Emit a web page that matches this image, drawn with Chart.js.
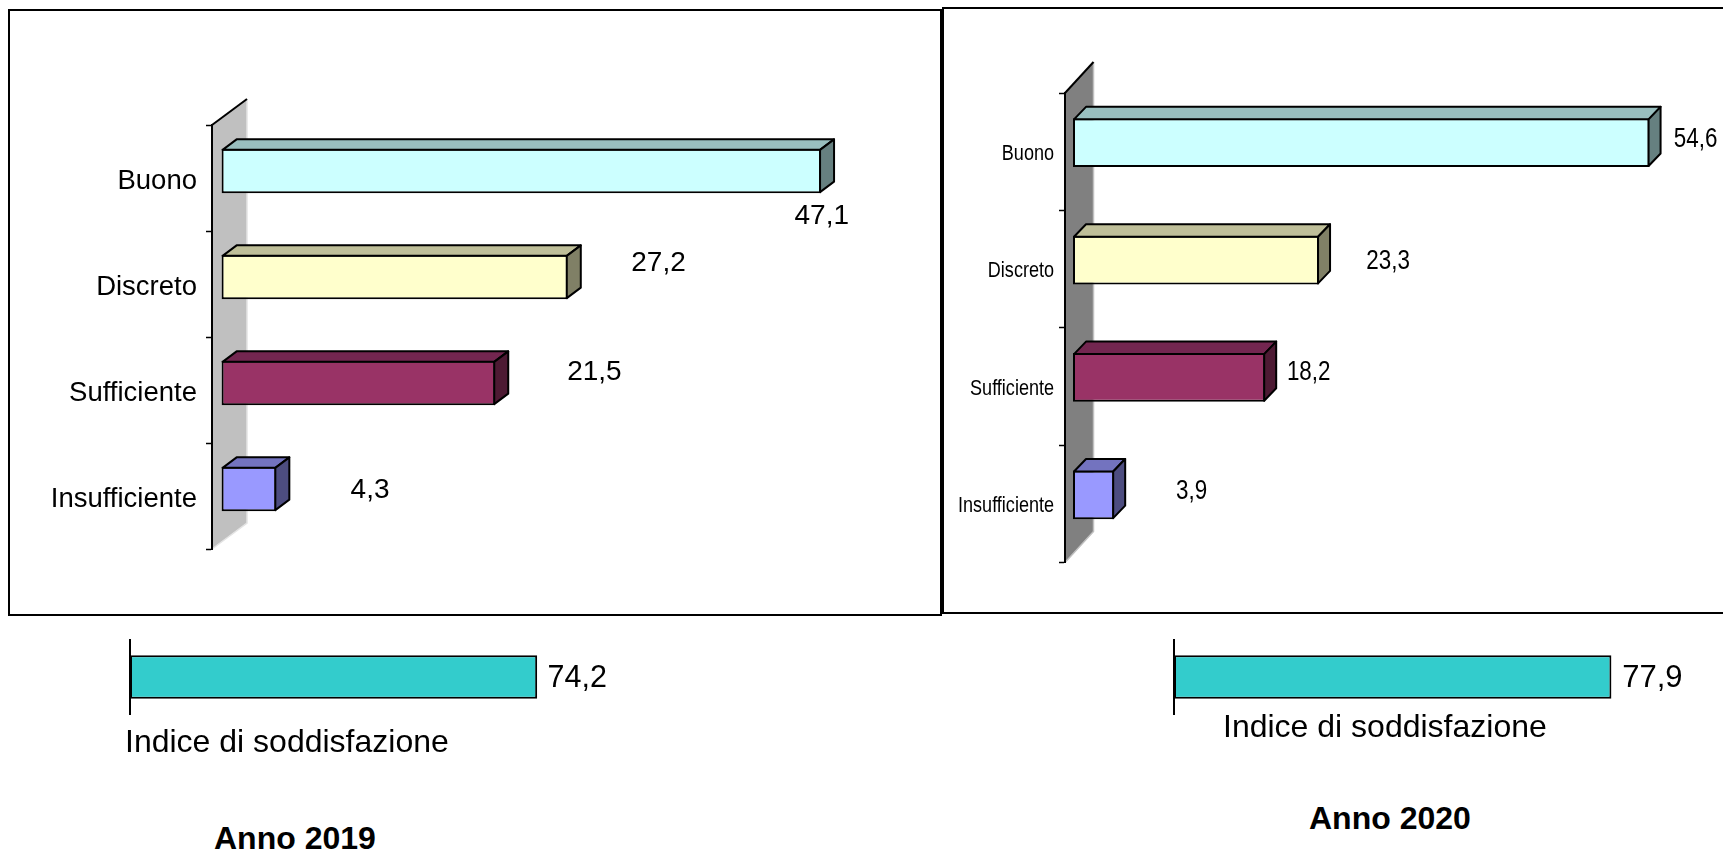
<!DOCTYPE html>
<html lang="it">

<head>
    <meta charset="UTF-8">
    <title>Indice di soddisfazione</title>
    <style>
        body {
            margin: 0;
            background: #fff;
            overflow: hidden;
            width: 1723px;
            height: 852px;
            position: relative;
            font-family: "Liberation Sans", Arial, sans-serif;
            color: #000;
        }

        canvas,
        .frame,
        .caption {
            position: absolute;
        }

        .frame {
            box-sizing: border-box;
            border: 2px solid #000;
        }

        .caption {
            white-space: nowrap;
            line-height: 1;
        }

        .caption.index {
            font-size: 32px;
        }

        .caption.year {
            font-size: 32px;
            font-weight: bold;
        }
    </style>
</head>

<body>
    <div class="frame" style="left:8px;top:9px;width:934px;height:607px"></div>
    <div class="frame" style="left:942px;top:7px;width:800px;height:607px"></div>

    <canvas id="chart2019" width="942" height="620" style="left:0;top:0"></canvas>
    <canvas id="chart2020" width="780" height="620" style="left:943px;top:0"></canvas>
    <canvas id="index2019" width="540" height="95" style="left:100px;top:630px"></canvas>
    <canvas id="index2020" width="560" height="95" style="left:1150px;top:630px"></canvas>

    <div class="caption index" id="indexLabel2019" style="left:125px;top:725px"></div>
    <div class="caption index" id="indexLabel2020" style="left:1223px;top:710px"></div>
    <div class="caption year" id="yearLabel2019" style="left:214px;top:822px"></div>
    <div class="caption year" id="yearLabel2020" style="left:1309px;top:802px"></div>

    <script src="https://cdn.jsdelivr.net/npm/chart.js"></script>
    <script>
        const categories = ["Buono", "Discreto", "Sufficiente", "Insufficiente"];
        const values2019 = [47.1, 27.2, 21.5, 4.3];
        const values2020 = [54.6, 23.3, 18.2, 3.9];
        const indexName = "Indice di soddisfazione";
        const index2019 = [74.2];
        const index2020 = [77.9];
        const years = ["Anno 2019", "Anno 2020"];

        const fills = ["#CCFFFF", "#FFFFCC", "#993366", "#9999FF"];
        const topFaces = ["#99BFBF", "#BFBF99", "#732650", "#7373BF"];
        const sideFaces = ["#668080", "#808066", "#4D1A33", "#4D4D80"];

        const fmt = (v) => v.toFixed(1).replace(".", ",");
        const ARIAL = "'Liberation Sans', Arial, sans-serif";

        // text squeezed sideways, the 2020 panel has a stretched look
        function squeezedText(ctx, text, x, y, squeeze) {
            ctx.save();
            ctx.translate(x, y);
            ctx.scale(squeeze, 1);
            ctx.fillText(text, 0, 0);
            ctx.restore();
        }

        // fake 3D: back wall, bar faces and the value labels
        const fake3d = {
            id: "fake3d",
            beforeDraw(chart, args, opts) {
                if (!opts.wall) return;
                const { ctx, chartArea: a } = chart;
                const w = opts.wall;
                ctx.save();
                ctx.beginPath();
                ctx.moveTo(a.left, a.top);
                ctx.lineTo(a.left + w.dx, a.top - w.dy);
                ctx.lineTo(a.left + w.dx, a.bottom - w.dy);
                ctx.lineTo(a.left, a.bottom);
                ctx.closePath();
                ctx.fillStyle = w.color;
                ctx.fill();
                ctx.strokeStyle = w.edge;
                ctx.lineWidth = 1.5;
                ctx.beginPath();
                ctx.moveTo(a.left + w.dx, a.top - w.dy);
                ctx.lineTo(a.left + w.dx, a.bottom - w.dy);
                ctx.lineTo(a.left, a.bottom);
                ctx.stroke();
                ctx.strokeStyle = "#000";
                ctx.lineWidth = 2;
                ctx.beginPath();
                ctx.moveTo(a.left, a.top);
                ctx.lineTo(a.left + w.dx, a.top - w.dy);
                ctx.stroke();
                ctx.restore();
            },
            afterDraw(chart, args, opts) {
                if (!opts.squeezedTicks) return;
                const { ctx, scales } = chart;
                const t = opts.squeezedTicks;
                ctx.save();
                ctx.fillStyle = "#000";
                ctx.font = t.font;
                ctx.textAlign = "right";
                ctx.textBaseline = "middle";
                chart.data.labels.forEach((label, i) => {
                    squeezedText(ctx, label, t.right, scales.y.getPixelForValue(i) + t.dy, t.squeeze);
                });
                ctx.restore();
            },
            beforeDatasetDraw(chart, args, opts) {
                chart.ctx.save();
                chart.ctx.translate(opts.shift.x, opts.shift.y);
            },
            afterDatasetDraw(chart, args, opts) {
                const ctx = chart.ctx;
                args.meta.data.forEach((bar, i) => {
                    const top = bar.y - bar.height / 2 + 1;
                    const bottom = bar.y + bar.height / 2 - 1;
                    const right = bar.x - 1;
                    const left = bar.base + 1;
                    const d = opts.depth;
                    ctx.strokeStyle = "#000";
                    ctx.lineWidth = 2;
                    ctx.lineJoin = "round";
                    if (d) {
                        ctx.fillStyle = topFaces[i];
                        ctx.beginPath();
                        ctx.moveTo(left, top);
                        ctx.lineTo(left + d.dx, top - d.dy);
                        ctx.lineTo(right + d.dx, top - d.dy);
                        ctx.lineTo(right, top);
                        ctx.closePath();
                        ctx.fill();
                        ctx.stroke();
                        ctx.fillStyle = sideFaces[i];
                        ctx.beginPath();
                        ctx.moveTo(right, top);
                        ctx.lineTo(right + d.dx, top - d.dy);
                        ctx.lineTo(right + d.dx, bottom - d.dy);
                        ctx.lineTo(right, bottom);
                        ctx.closePath();
                        ctx.fill();
                        ctx.stroke();
                    }
                    const off = opts.labelOffsets[i];
                    ctx.fillStyle = "#000";
                    ctx.font = opts.labelFont;
                    ctx.textAlign = "center";
                    ctx.textBaseline = "middle";
                    const value = chart.data.datasets[args.index].data[i];
                    squeezedText(ctx, fmt(value), bar.x + off[0], bar.y + off[1], opts.labelSqueeze);
                });
                ctx.restore();
            }
        };
        Chart.register(fake3d);

        function makeChart(id, labels, data, colors, cfg) {
            new Chart(document.getElementById(id), {
                type: "bar",
                data: {
                    labels: labels,
                    datasets: [{
                        data: data,
                        backgroundColor: colors,
                        borderColor: "#000",
                        borderWidth: 2,
                        borderSkipped: false,
                        categoryPercentage: 1,
                        barPercentage: cfg.barPercentage,
                        clip: false
                    }]
                },
                options: {
                    indexAxis: "y",
                    responsive: false,
                    animation: false,
                    events: [],
                    layout: { padding: cfg.padding },
                    plugins: {
                        legend: { display: false },
                        tooltip: { enabled: false },
                        fake3d: {
                            wall: cfg.wall,
                            depth: cfg.depth,
                            shift: cfg.shift,
                            labelFont: cfg.labelFont,
                            labelSqueeze: cfg.labelSqueeze || 1,
                            labelOffsets: cfg.labelOffsets,
                            squeezedTicks: cfg.squeezedTicks
                        }
                    },
                    scales: {
                        x: { display: false, min: 0, max: cfg.max },
                        y: {
                            afterFit: (axis) => { axis.width = cfg.axisWidth; },
                            border: { display: true, color: "#000", width: 2 },
                            grid: {
                                drawOnChartArea: false,
                                drawTicks: cfg.drawTicks,
                                tickColor: "#000",
                                tickLength: 6,
                                tickWidth: 1.5
                            },
                            ticks: {
                                display: cfg.showLabels,
                                autoSkip: false,
                                color: "#000",
                                padding: 9,
                                labelOffset: 3,
                                font: { family: ARIAL, size: 27.5 }
                            }
                        }
                    }
                }
            });
        }

        makeChart("chart2019", categories, values2019, fills, {
            barPercentage: 0.418,
            padding: { top: 125, bottom: 71, left: 0, right: 30 },
            axisWidth: 212,
            max: 55,
            drawTicks: true,
            showLabels: true,
            wall: { dx: 35, dy: 26, color: "#C0C0C0", edge: "#E4E4E4" },
            depth: { dx: 14, dy: 10.5 },
            shift: { x: 9.6, y: -7 },
            labelFont: "28px " + ARIAL,
            labelOffsets: [[0.7, 45], [90.7, -13.5], [99.2, -11], [93.7, 1]]
        });

        makeChart("chart2020", categories, values2020, fills, {
            barPercentage: 0.415,
            padding: { top: 93, bottom: 57.5, left: 0, right: 24.4 },
            axisWidth: 122,
            max: 60,
            drawTicks: true,
            showLabels: false,
            wall: { dx: 28.5, dy: 31, color: "#808080", edge: "#C0C0C0" },
            depth: { dx: 12, dy: 12.5 },
            shift: { x: 8, y: -9 },
            labelFont: "27px " + ARIAL,
            labelSqueeze: 0.83,
            labelOffsets: [[46, -3.5], [69, 1.5], [43.5, -4.5], [77.5, -3.5]],
            squeezedTicks: { font: "22px " + ARIAL, squeeze: 0.82, right: 111, dy: 2 }
        });

        makeChart("index2019", [indexName], index2019, ["#33CCCC"], {
            barPercentage: 0.585,
            padding: { top: 10, bottom: 11, left: 0, right: 71 },
            axisWidth: 30,
            max: 80,
            drawTicks: false,
            showLabels: false,
            wall: null,
            depth: null,
            shift: { x: 0, y: 0 },
            labelFont: "30.5px " + ARIAL,
            labelOffsets: [[40, 2]]
        });

        makeChart("index2020", [indexName], index2020, ["#33CCCC"], {
            barPercentage: 0.585,
            padding: { top: 10, bottom: 11, left: 0, right: 86.8 },
            axisWidth: 24,
            max: 80,
            drawTicks: false,
            showLabels: false,
            wall: null,
            depth: null,
            shift: { x: 0, y: 0 },
            labelFont: "31px " + ARIAL,
            labelOffsets: [[41, 1]]
        });

        document.getElementById("indexLabel2019").textContent = indexName;
        document.getElementById("indexLabel2020").textContent = indexName;
        document.getElementById("yearLabel2019").textContent = years[0];
        document.getElementById("yearLabel2020").textContent = years[1];
    </script>
</body>

</html>
